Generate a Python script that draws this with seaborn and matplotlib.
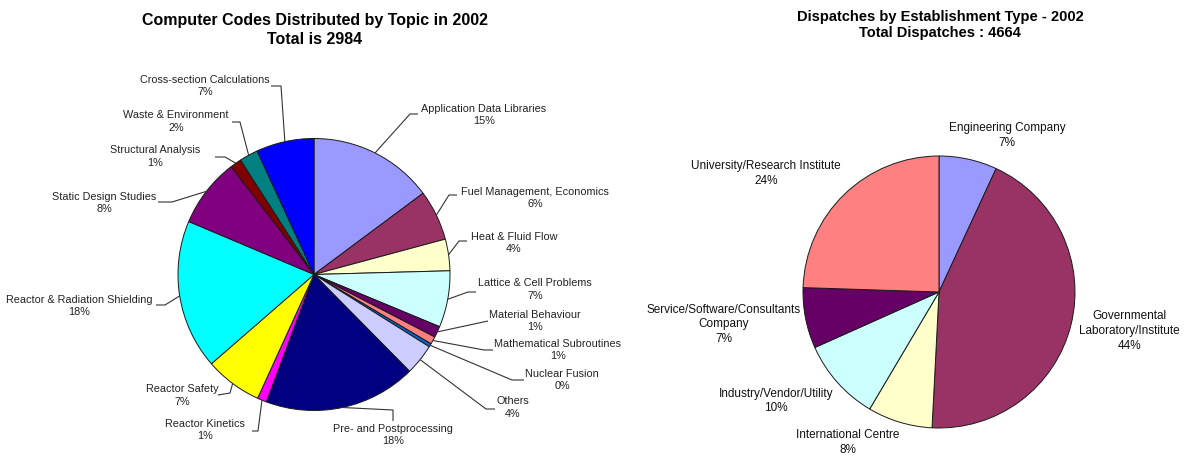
import matplotlib
matplotlib.use("Agg")
import matplotlib.pyplot as plt
import seaborn as sns
import numpy as np

# ---------------- data ----------------
topic_title = "Computer Codes Distributed by Topic in 2002\nTotal is 2984"
topics = ["Application Data Libraries", "Fuel Management, Economics", "Heat & Fluid Flow",
          "Lattice & Cell Problems", "Material Behaviour", "Mathematical Subroutines",
          "Nuclear Fusion", "Others", "Pre- and Postprocessing", "Reactor Kinetics",
          "Reactor Safety", "Reactor & Radiation Shielding", "Static Design Studies",
          "Structural Analysis", "Waste & Environment", "Cross-section Calculations"]
topic_counts = [442, 179, 112, 200, 40, 27, 12, 110, 540, 33, 203, 530, 245, 40, 66, 205]
topic_colors = ["#9999FF", "#993366", "#FFFFCC", "#CCFFFF", "#660066", "#FF8080",
                "#0066CC", "#CCCCFF", "#000080", "#FF00FF", "#FFFF00", "#00FFFF",
                "#800080", "#800000", "#008080", "#0000FF"]

est_title = "Dispatches by Establishment Type - 2002\nTotal Dispatches : 4664"
est_types = ["Engineering Company", "Governmental\nLaboratory/Institute", "International Centre",
             "Industry/Vendor/Utility", "Service/Software/Consultants\nCompany",
             "University/Research Institute"]
est_counts = [322, 2048, 359, 457, 336, 1142]
est_colors = ["#9999FF", "#993366", "#FFFFCC", "#CCFFFF", "#660066", "#FF8080"]

# ---------------- layout (image pixel coords, y downward) ----------------
W, H = 1185, 457
left_center = (314, 274.5)
right_center = (939, 292)
radius = 136
left_label_pos = [(484, 115), (535, 198), (514, 243), (535, 289.5), (535, 321),
                  (558, 350), (562, 380), (513, 407.5), (393, 435), (205, 430),
                  (182, 395.5), (79, 306), (104, 203), (155, 156.5), (176, 121.5),
                  (205, 86)]
# leader: anchor at label, elbow point
left_leader = [((418, 114), (410, 114)), ((457, 195), (449, 195)), ((467, 241), (459, 241)),
               ((476, 292), (468, 292)), ((488, 321), (488, 321)), ((493, 350), (484, 350)),
               ((524, 380), (512, 380)), ((495, 409), (486, 409)), ((393, 421), (393, 410)),
               ((252, 431), (258, 431)), ((218, 395), (230, 393)), ((156, 305), (165, 305)),
               ((158, 202), (172, 202)), ((215, 157), (225, 157)), ((232, 122), (240, 122)),
               ((271, 86), (281, 86))]
right_label_pos = [(1007, 135.5), (1129, 331), (848, 442.5), (776, 401), (724, 324.5), (766, 173.5)]

sns.set_theme(style="white")
plt.rcParams['font.family'] = ['Liberation Sans', 'DejaVu Sans']

fig = plt.figure(figsize=(W / 100, H / 100), dpi=100)
ax = fig.add_axes([0, 0, 1, 1])

def Y(y):
    return H - y

edge_kw = dict(edgecolor="#1a1a1a", linewidth=0.7)

# left pie
lw, _ = ax.pie(topic_counts, colors=topic_colors, startangle=90, counterclock=False,
               center=(left_center[0], Y(left_center[1])), radius=radius,
               wedgeprops=edge_kw)
tot = sum(topic_counts)
for w, name, c, pos, (anc, elb) in zip(lw, topics, topic_counts, left_label_pos, left_leader):
    ang = np.deg2rad((w.theta1 + w.theta2) / 2)
    ex = left_center[0] + radius * np.cos(ang)
    ey = Y(left_center[1]) + radius * np.sin(ang)
    ax.plot([anc[0], elb[0], ex], [Y(anc[1]), Y(elb[1]), ey], color="#333333", lw=0.8,
            solid_capstyle="butt")
    ax.text(pos[0], Y(pos[1]), f"{name}\n{round(100 * c / tot)}%", ha="center", va="center",
            fontsize=7.8, linespacing=1.3, color="#222222")

# right pie
rw, _ = ax.pie(est_counts, colors=est_colors, startangle=90, counterclock=False,
               center=(right_center[0], Y(right_center[1])), radius=radius,
               wedgeprops=edge_kw)
tot2 = sum(est_counts)
for name, c, pos in zip(est_types, est_counts, right_label_pos):
    ax.text(pos[0], Y(pos[1]), f"{name}\n{round(100 * c / tot2)}%", ha="center", va="center",
            fontsize=8.5, linespacing=1.3, color="#111111")

ax.text(315, Y(30), topic_title, ha="center", va="center", fontsize=11.5, fontweight="bold",
        linespacing=1.25, color="black")
ax.text(940, Y(25), est_title, ha="center", va="center", fontsize=10.5, fontweight="bold",
        linespacing=1.23, color="black")

ax.set_xlim(0, W)
ax.set_ylim(0, H)
ax.set_aspect("equal")
ax.axis("off")
fig.savefig("out.png", dpi=100, facecolor="white")
